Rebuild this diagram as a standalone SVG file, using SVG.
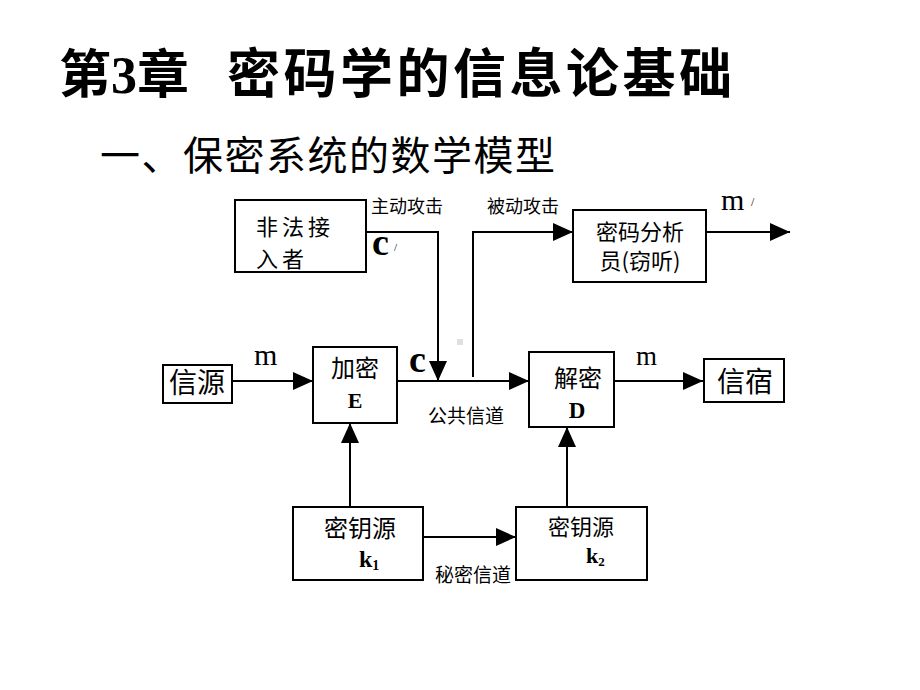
<svg xmlns="http://www.w3.org/2000/svg" width="920" height="690" viewBox="0 0 920 690">
<defs>
<marker id="ah" viewBox="0 0 20 18" refX="20" refY="9" markerWidth="20" markerHeight="18" markerUnits="userSpaceOnUse" orient="auto">
<path d="M0,0 L20,9 L0,18 Z" fill="#000"/>
</marker>
<style>
.box{fill:#fff;stroke:#000;stroke-width:2}
.ln{fill:none;stroke:#000;stroke-width:2}
.cn{font-family:"Noto Sans CJK SC","Liberation Sans",sans-serif;fill:#000}
.lat{font-family:"Liberation Serif","Noto Sans CJK SC",serif;fill:#000}
.mid{text-anchor:middle}
</style>
</defs>
<rect width="920" height="690" fill="#fff"/>
<g id="title">
<text class="lat" x="59" y="93" font-size="52" font-weight="bold">第3章</text>
<text class="lat" x="227" y="93" font-size="53" font-weight="bold" textLength="505" lengthAdjust="spacing">密码学的信息论基础</text>
</g>
<g id="subtitle">
<text class="cn" x="100" y="170" font-size="40" textLength="455" lengthAdjust="spacing">一、保密系统的数学模型</text>
</g>
<g id="connectors">
<path class="ln" d="M232,381 H313" marker-end="url(#ah)"/>
<path class="ln" d="M397,381 H529" marker-end="url(#ah)"/>
<path class="ln" d="M614,381 H703" marker-end="url(#ah)"/>
<path class="ln" d="M366,232 H438 V381" marker-end="url(#ah)"/>
<path class="ln" d="M473,377 V232 H573" marker-end="url(#ah)"/>
<path class="ln" d="M706,232 H790" marker-end="url(#ah)"/>
<path class="ln" d="M350,507 V423" marker-end="url(#ah)"/>
<path class="ln" d="M567,507 V427" marker-end="url(#ah)"/>
<path class="ln" d="M423,537 H516" marker-end="url(#ah)"/>
<text class="cn mid" x="407" y="213" font-size="18">主动攻击</text>
<text class="cn mid" x="523" y="213" font-size="18">被动攻击</text>
<text class="cn mid" x="466" y="423" font-size="19">公共信道</text>
<text class="cn mid" x="473" y="582" font-size="19">秘密信道</text>
<text class="lat" x="372" y="255" font-size="38" font-weight="bold">c</text>
<text class="lat" x="394" y="251" font-size="11">/</text>
<text class="lat" x="409" y="372" font-size="38" font-weight="bold">c</text>
<text class="lat" x="254" y="365" font-size="30">m</text>
<text class="lat" x="636" y="365" font-size="27">m</text>
<text class="lat" x="721" y="210" font-size="30">m</text>
<text class="lat" x="751" y="206" font-size="12">/</text>
<rect x="457" y="339" width="6" height="6" fill="#e0e0e0"/>
</g>
<g id="illegal">
<rect class="box" x="235" y="200" width="131" height="72"/>
<text class="cn" x="256" y="235" font-size="22" textLength="74" lengthAdjust="spacing">非法接</text>
<text class="cn" x="256" y="267" font-size="22" textLength="48" lengthAdjust="spacing">入者</text>
</g>
<g id="analyst">
<rect class="box" x="573" y="210" width="133" height="72"/>
<text class="cn mid" x="640" y="240" font-size="22">密码分析</text>
<text class="cn mid" x="640" y="269" font-size="22">员(窃听)</text>
</g>
<g id="source">
<rect class="box" x="163" y="365" width="69" height="38"/>
<text class="cn mid" x="197" y="393" font-size="28">信源</text>
</g>
<g id="encrypt">
<rect class="box" x="313" y="347" width="84" height="76"/>
<text class="cn mid" x="355" y="377" font-size="24">加密</text>
<text class="lat mid" x="355" y="408" font-size="22" font-weight="bold">E</text>
</g>
<g id="decrypt">
<rect class="box" x="529" y="352" width="85" height="75"/>
<text class="cn mid" x="578" y="387" font-size="24">解密</text>
<text class="lat mid" x="577" y="418" font-size="23" font-weight="bold">D</text>
</g>
<g id="sink">
<rect class="box" x="704" y="359" width="80" height="43"/>
<text class="cn mid" x="745" y="392" font-size="28">信宿</text>
</g>
<g id="key1">
<rect class="box" x="293" y="507" width="130" height="73"/>
<text class="cn mid" x="360" y="537" font-size="24">密钥源</text>
<text class="lat" x="359" y="567" font-size="24" font-weight="bold">k<tspan font-size="14" dy="3">1</tspan></text>
</g>
<g id="key2">
<rect class="box" x="516" y="507" width="131" height="73"/>
<text class="cn mid" x="581" y="535" font-size="22">密钥源</text>
<text class="lat" x="586" y="563" font-size="22" font-weight="bold">k<tspan font-size="13" dy="3">2</tspan></text>
</g>
</svg>
